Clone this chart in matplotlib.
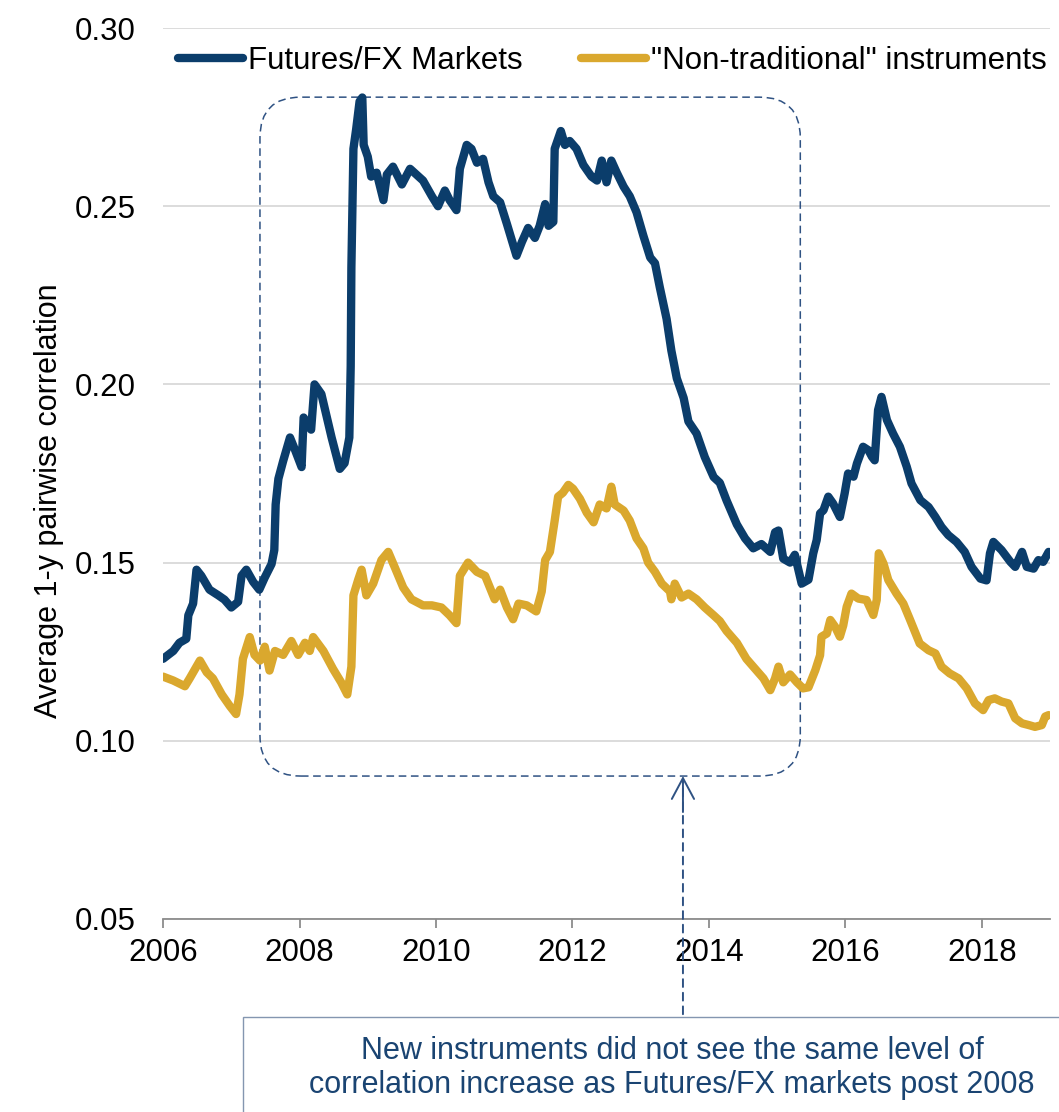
import matplotlib
matplotlib.use("Agg")
import matplotlib.pyplot as plt
from matplotlib.patches import FancyBboxPatch, Rectangle

plt.rcParams['font.family'] = ['Liberation Sans', 'DejaVu Sans']

fut_year = [2006.00, 2006.15, 2006.24, 2006.34, 2006.37, 2006.44, 2006.49, 2006.56, 2006.68, 2006.81,
            2006.90, 2007.00, 2007.10, 2007.15, 2007.22, 2007.32, 2007.41, 2007.49, 2007.59, 2007.63,
            2007.65, 2007.69, 2007.76, 2007.86, 2007.93, 2008.03, 2008.06, 2008.17, 2008.22, 2008.32,
            2008.47, 2008.59, 2008.66, 2008.73, 2008.75, 2008.76, 2008.79, 2008.83, 2008.88, 2008.92,
            2008.94, 2009.00, 2009.05, 2009.13, 2009.23, 2009.28, 2009.37, 2009.50, 2009.62, 2009.81,
            2009.94, 2010.03, 2010.13, 2010.20, 2010.30, 2010.35, 2010.45, 2010.52, 2010.60, 2010.69,
            2010.77, 2010.84, 2010.94, 2011.04, 2011.11, 2011.18, 2011.26, 2011.35, 2011.45, 2011.52,
            2011.60, 2011.65, 2011.72, 2011.74, 2011.83, 2011.89, 2011.96, 2012.06, 2012.16, 2012.28,
            2012.36, 2012.43, 2012.50, 2012.57, 2012.65, 2012.75, 2012.84, 2012.94, 2013.04, 2013.14,
            2013.21, 2013.28, 2013.38, 2013.45, 2013.53, 2013.63, 2013.70, 2013.82, 2013.94, 2014.07,
            2014.16, 2014.26, 2014.41, 2014.53, 2014.65, 2014.77, 2014.90, 2014.97, 2015.02, 2015.09,
            2015.19, 2015.26, 2015.36, 2015.46, 2015.53, 2015.58, 2015.63, 2015.68, 2015.75, 2015.82,
            2015.92, 2015.99, 2016.04, 2016.12, 2016.17, 2016.26, 2016.34, 2016.39, 2016.43, 2016.48,
            2016.53, 2016.61, 2016.70, 2016.80, 2016.90, 2016.97, 2017.10, 2017.22, 2017.32, 2017.41,
            2017.51, 2017.63, 2017.75, 2017.85, 2017.98, 2018.07, 2018.12, 2018.17, 2018.29, 2018.42,
            2018.49, 2018.59, 2018.66, 2018.76, 2018.83, 2018.90, 2018.98]
fut_val = [0.1230, 0.1252, 0.1275, 0.1286, 0.1352, 0.1385, 0.1480, 0.1463, 0.1424, 0.1408,
           0.1396, 0.1374, 0.1390, 0.1463, 0.1480, 0.1446, 0.1424, 0.1458, 0.1496, 0.1535,
           0.1663, 0.1735, 0.1785, 0.1851, 0.1818, 0.1768, 0.1907, 0.1873, 0.2000, 0.1973,
           0.1851, 0.1763, 0.1779, 0.1851, 0.2051, 0.2328, 0.2661, 0.2716, 0.2794, 0.2805,
           0.2672, 0.2639, 0.2583, 0.2594, 0.2517, 0.2589, 0.2611, 0.2561, 0.2605, 0.2572,
           0.2528, 0.2500, 0.2544, 0.2517, 0.2489, 0.2605, 0.2672, 0.2661, 0.2622, 0.2633,
           0.2567, 0.2528, 0.2511, 0.2450, 0.2406, 0.2361, 0.2400, 0.2439, 0.2411, 0.2445,
           0.2506, 0.2445, 0.2456, 0.2661, 0.2711, 0.2672, 0.2683, 0.2661, 0.2616, 0.2583,
           0.2572, 0.2628, 0.2567, 0.2628, 0.2594, 0.2555, 0.2528, 0.2483, 0.2417, 0.2356,
           0.2340, 0.2273, 0.2184, 0.2095, 0.2017, 0.1962, 0.1896, 0.1862, 0.1796, 0.1740,
           0.1724, 0.1674, 0.1607, 0.1568, 0.1540, 0.1552, 0.1530, 0.1585, 0.1590, 0.1511,
           0.1500, 0.1522, 0.1441, 0.1452, 0.1526, 0.1563, 0.1638, 0.1647, 0.1685, 0.1666,
           0.1628, 0.1694, 0.1750, 0.1741, 0.1778, 0.1825, 0.1815, 0.1797, 0.1787, 0.1928,
           0.1965, 0.1900, 0.1862, 0.1825, 0.1769, 0.1722, 0.1675, 0.1656, 0.1628, 0.1600,
           0.1577, 0.1558, 0.1530, 0.1488, 0.1455, 0.1450, 0.1526, 0.1558, 0.1535, 0.1502,
           0.1488, 0.1530, 0.1488, 0.1483, 0.1507, 0.1502, 0.1530]

nt_year = [2006.00, 2006.15, 2006.32, 2006.39, 2006.49, 2006.54, 2006.64, 2006.73, 2006.86, 2006.98,
           2007.07, 2007.12, 2007.17, 2007.27, 2007.34, 2007.42, 2007.49, 2007.56, 2007.64, 2007.76,
           2007.88, 2007.98, 2008.08, 2008.15, 2008.20, 2008.35, 2008.49, 2008.61, 2008.70, 2008.76,
           2008.79, 2008.86, 2008.91, 2008.98, 2009.08, 2009.20, 2009.30, 2009.40, 2009.52, 2009.64,
           2009.81, 2009.94, 2010.08, 2010.20, 2010.30, 2010.35, 2010.47, 2010.60, 2010.72, 2010.86,
           2010.94, 2011.04, 2011.13, 2011.21, 2011.33, 2011.47, 2011.55, 2011.60, 2011.67, 2011.74,
           2011.79, 2011.86, 2011.94, 2012.01, 2012.11, 2012.21, 2012.31, 2012.40, 2012.50, 2012.57,
           2012.62, 2012.75, 2012.84, 2012.94, 2013.04, 2013.11, 2013.21, 2013.31, 2013.43, 2013.45,
           2013.50, 2013.60, 2013.70, 2013.82, 2013.94, 2014.07, 2014.16, 2014.26, 2014.41, 2014.55,
           2014.70, 2014.80, 2014.90, 2014.97, 2015.02, 2015.09, 2015.19, 2015.29, 2015.38, 2015.46,
           2015.56, 2015.63, 2015.65, 2015.73, 2015.78, 2015.85, 2015.92, 2015.97, 2016.02, 2016.09,
           2016.19, 2016.31, 2016.41, 2016.46, 2016.49, 2016.56, 2016.63, 2016.75, 2016.85, 2016.95,
           2017.09, 2017.22, 2017.32, 2017.41, 2017.53, 2017.66, 2017.78, 2017.90, 2018.02, 2018.10,
           2018.19, 2018.29, 2018.39, 2018.49, 2018.59, 2018.69, 2018.78, 2018.88, 2018.93, 2018.98]
nt_val = [0.1180, 0.1169, 0.1153, 0.1175, 0.1208, 0.1225, 0.1192, 0.1175, 0.1130, 0.1097,
          0.1075, 0.1130, 0.1230, 0.1291, 0.1241, 0.1225, 0.1264, 0.1197, 0.1252, 0.1241,
          0.1280, 0.1241, 0.1275, 0.1252, 0.1291, 0.1252, 0.1202, 0.1164, 0.1130, 0.1208,
          0.1408, 0.1452, 0.1480, 0.1408, 0.1441, 0.1507, 0.1530, 0.1485, 0.1430, 0.1397,
          0.1380, 0.1380, 0.1374, 0.1352, 0.1330, 0.1463, 0.1500, 0.1474, 0.1463, 0.1397,
          0.1424, 0.1374, 0.1341, 0.1385, 0.1380, 0.1363, 0.1419, 0.1507, 0.1530, 0.1618,
          0.1685, 0.1696, 0.1718, 0.1707, 0.1679, 0.1640, 0.1613, 0.1663, 0.1652, 0.1713,
          0.1663, 0.1646, 0.1618, 0.1568, 0.1540, 0.1500, 0.1474, 0.1441, 0.1419, 0.1397,
          0.1441, 0.1402, 0.1413, 0.1397, 0.1374, 0.1352, 0.1336, 0.1308, 0.1275, 0.1230,
          0.1197, 0.1175, 0.1142, 0.1175, 0.1208, 0.1164, 0.1186, 0.1164, 0.1147, 0.1150,
          0.1198, 0.1240, 0.1292, 0.1301, 0.1339, 0.1320, 0.1292, 0.1324, 0.1376, 0.1413,
          0.1399, 0.1395, 0.1353, 0.1395, 0.1526, 0.1497, 0.1451, 0.1413, 0.1385, 0.1339,
          0.1273, 0.1254, 0.1245, 0.1208, 0.1189, 0.1175, 0.1147, 0.1105, 0.1086, 0.1114,
          0.1119, 0.1110, 0.1105, 0.1063, 0.1049, 0.1044, 0.1039, 0.1044, 0.1068, 0.1072]

x_ticks = [2006, 2008, 2010, 2012, 2014, 2016, 2018]
y_ticks = [0.05, 0.10, 0.15, 0.20, 0.25, 0.30]

navy = '#0B3D6B'
gold = '#DAA82E'
note_blue = '#2F5283'

fig = plt.figure(figsize=(10.59, 11.12), dpi=100)
ax = fig.add_axes([0.154, 0.1736, 0.8375, 0.8012])

ax.plot(fut_year, fut_val, color=navy, lw=6, solid_joinstyle='round', solid_capstyle='round',
        label='Futures/FX Markets', zorder=3)
ax.plot(nt_year, nt_val, color=gold, lw=6, solid_joinstyle='round', solid_capstyle='round',
        label='"Non-traditional" instruments', zorder=3)

ax.set_xlim(2006, 2019)
ax.set_ylim(0.05, 0.30)
ax.set_xticks(x_ticks)
ax.set_yticks(y_ticks)
ax.set_yticklabels(['%.2f' % v for v in y_ticks])
ax.grid(axis='y', color='#D9D9D9', lw=1.3)
ax.set_axisbelow(True)
for s in ['top', 'right', 'left']:
    ax.spines[s].set_visible(False)
ax.spines['bottom'].set_color('#8C8C8C')
ax.spines['bottom'].set_linewidth(1.3)
ax.tick_params(axis='x', length=6.5, width=1.3, color='#8C8C8C', labelsize=22.5, pad=7)
ax.tick_params(axis='y', length=0, labelsize=22.5, pad=20)
ax.set_ylabel('Average 1-y pairwise correlation', fontsize=22)
ax.yaxis.set_label_coords(-0.112, 0.47)

ax.legend(loc='upper left', bbox_to_anchor=(0.0166, 0.980), ncol=2, frameon=False,
          fontsize=22.5, handlelength=2.1, handletextpad=0.16, columnspacing=1.85,
          borderaxespad=0, borderpad=0)

# dashed rounded box around 2008-2015
box = FancyBboxPatch((2007.42, 0.0901), 2015.34 - 2007.42, 0.2806 - 0.0901,
                     boxstyle='round,pad=0,rounding_size=0.6', mutation_aspect=0.019,
                     fill=False, ec=note_blue, lw=1.1, ls=(0, (5, 3)), zorder=2)
ax.add_patch(box)

# dashed arrow from the note up to the box
ax.annotate('', xy=(2013.62, 0.0901), xytext=(2013.62, 0.0225), xycoords='data',
            arrowprops=dict(arrowstyle='-', color=note_blue, lw=1.4, ls=(0, (4, 3))),
            annotation_clip=False)
ax.annotate('', xy=(2013.62, 0.0901), xytext=(2013.62, 0.080),
            arrowprops=dict(arrowstyle='->,head_length=0.75,head_width=0.4', color=note_blue,
                            lw=1.4, mutation_scale=20, shrinkA=0, shrinkB=0),
            annotation_clip=False)

fig.patches.append(Rectangle((0.2295, -0.05), 0.85, 0.1357, transform=fig.transFigure,
                             fill=False, ec='#8496B0', lw=1.0))
fig.text(0.6346, 0.0396, 'New instruments did not see the same level of\n'
         'correlation increase as Futures/FX markets post 2008',
         ha='center', va='center', fontsize=22, color='#1A4472', linespacing=1.2)

fig.savefig('out.png', dpi=100)
